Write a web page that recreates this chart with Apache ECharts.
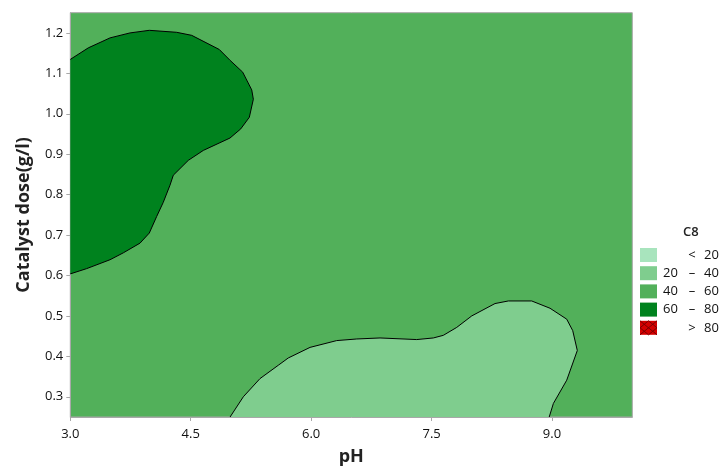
<!DOCTYPE html>
<html>
<head>
<meta charset="utf-8">
<script src="https://cdn.jsdelivr.net/npm/echarts@6/dist/echarts.min.js"></script>
<style>html,body{margin:0;padding:0;background:#fff}#c{width:722px;height:471px}</style>
</head>
<body>
<div id="c"></div>
<script>
// ---- data ----
var xTicks = [3.0, 4.5, 6.0, 7.5, 9.0];
var yTicks = [0.3, 0.4, 0.5, 0.6, 0.7, 0.8, 0.9, 1.0, 1.1, 1.2];
var xRange = [3.0, 10.0];
var yRange = [0.25, 1.25];
// 60 contour (region 60-80), from left edge back to left edge
var contour60 = [
  [3.0, 1.1345], [3.224, 1.163], [3.495, 1.1877], [3.744, 1.200], [3.984, 1.2064],
  [4.325, 1.2015], [4.512, 1.194], [4.856, 1.159], [4.991, 1.132], [5.147, 1.103],
  [5.260, 1.059], [5.280, 1.036], [5.230, 0.9914], [5.123, 0.9626], [4.989, 0.940],
  [4.657, 0.9094], [4.470, 0.8848], [4.283, 0.848], [4.242, 0.8235], [4.158, 0.781],
  [4.076, 0.746], [3.984, 0.705], [3.868, 0.680], [3.660, 0.656], [3.495, 0.639],
  [3.204, 0.617], [3.0, 0.604]
];
// 40 contour (region 20-40), from bottom edge back to bottom edge
var contour40 = [
  [4.99, 0.25], [5.155, 0.300], [5.363, 0.345], [5.591, 0.378], [5.715, 0.396],
  [5.986, 0.4222], [6.318, 0.439], [6.568, 0.443], [6.858, 0.4455], [7.315, 0.4415],
  [7.522, 0.4455], [7.646, 0.452], [7.813, 0.4716], [8.0, 0.500], [8.290, 0.5306],
  [8.456, 0.537], [8.747, 0.537], [8.975, 0.519], [9.183, 0.492], [9.258, 0.4636],
  [9.315, 0.4145], [9.183, 0.341], [9.017, 0.2835], [8.965, 0.25]
];
var legendTitle = 'C8';
var legendLabels = [['', '<', '20'], ['20', '\u2013', '40'], ['40', '\u2013', '60'], ['60', '\u2013', '80'], ['', '>', '80']];
var legendColors = ['#a8e4bd', '#7fcd8e', '#52b05a', '#00821e', '#d40000'];

// ---- chart ----
var FONT = '"Open Sans", "Noto Sans", sans-serif';
var chart = echarts.init(document.getElementById('c'), null, {renderer: 'canvas'});

function regionSeries(points, fill) {
  return {
    type: 'custom',
    coordinateSystem: 'cartesian2d',
    silent: true,
    clip: true,
    data: [0],
    renderItem: function (params, api) {
      var pts = points.map(function (p) { return api.coord(p); });
      return {
        type: 'group',
        children: [
          {type: 'polygon', shape: {points: pts}, style: {fill: fill, stroke: null}},
          {type: 'polyline', shape: {points: pts}, style: {fill: null, stroke: '#000', lineWidth: 1}}
        ]
      };
    }
  };
}

var graphics = [];
var lx = 640, ly0 = 248, rowH = 18.2;
graphics.push({type: 'text', left: 683, top: 226, style: {text: legendTitle, font: '600 13px ' + FONT, fill: '#222'}});
legendLabels.forEach(function (lab, i) {
  var y = ly0 + i * rowH;
  graphics.push({type: 'rect', shape: {x: lx, y: y, width: 17, height: 14}, style: {fill: legendColors[i]}});
  if (i === 4) {
    var s = {stroke: '#7a0000', lineWidth: 1};
    graphics.push({type: 'polyline', shape: {points: [[lx, y], [lx + 17, y + 14]]}, style: s});
    graphics.push({type: 'polyline', shape: {points: [[lx + 17, y], [lx, y + 14]]}, style: s});
    graphics.push({type: 'polyline', shape: {points: [[lx + 8.5, y], [lx + 17, y + 7]]}, style: s});
    graphics.push({type: 'polyline', shape: {points: [[lx + 8.5, y], [lx, y + 7]]}, style: s});
    graphics.push({type: 'polyline', shape: {points: [[lx, y + 7], [lx + 8.5, y + 14]]}, style: s});
    graphics.push({type: 'polyline', shape: {points: [[lx + 17, y + 7], [lx + 8.5, y + 14]]}, style: s});
  }
  var f = '13px ' + FONT;
  if (lab[0]) graphics.push({type: 'text', x: 663, y: y + 7, style: {text: lab[0], font: f, fill: '#111', verticalAlign: 'middle'}});
  graphics.push({type: 'text', x: 692, y: y + 7, style: {text: lab[1], font: f, fill: '#111', align: 'center', verticalAlign: 'middle'}});
  graphics.push({type: 'text', x: 704, y: y + 7, style: {text: lab[2], font: f, fill: '#111', verticalAlign: 'middle'}});
});

var option = {
  backgroundColor: '#fff',
  animation: false,
  grid: {left: 70.3, right: 89.7, top: 12.7, bottom: 51.7, show: true, backgroundColor: legendColors[2], borderColor: '#a8a8a8', borderWidth: 1},
  xAxis: {
    type: 'value', min: xRange[0], max: xRange[1],
    name: 'pH', nameLocation: 'middle', nameGap: 31,
    nameTextStyle: {fontFamily: FONT, fontSize: 18, fontWeight: 'bold', color: '#222'},
    axisLine: {show: true, lineStyle: {color: '#a8a8a8'}},
    axisTick: {show: true, length: 4, lineStyle: {color: '#a8a8a8'}, customValues: xTicks},
    axisLabel: {color: '#111', fontFamily: FONT, fontSize: 13, margin: 11, customValues: xTicks, formatter: function (v) { return v.toFixed(1); }},
    splitLine: {show: false}
  },
  yAxis: {
    type: 'value', min: yRange[0], max: yRange[1],
    name: 'Catalyst dose(g/l)', nameLocation: 'middle', nameGap: 37,
    nameTextStyle: {fontFamily: FONT, fontSize: 18, fontWeight: 'bold', color: '#222'},
    axisLine: {show: true, lineStyle: {color: '#a8a8a8'}},
    axisTick: {show: true, length: 4, lineStyle: {color: '#a8a8a8'}, customValues: yTicks},
    axisLabel: {color: '#111', fontFamily: FONT, fontSize: 13, margin: 7, customValues: yTicks, formatter: function (v) { return v.toFixed(1); }},
    splitLine: {show: false}
  },
  series: [
    regionSeries(contour60, legendColors[3]),
    regionSeries(contour40, legendColors[1])
  ],
  graphic: graphics
};
chart.setOption(option);
</script>
</body>
</html>
